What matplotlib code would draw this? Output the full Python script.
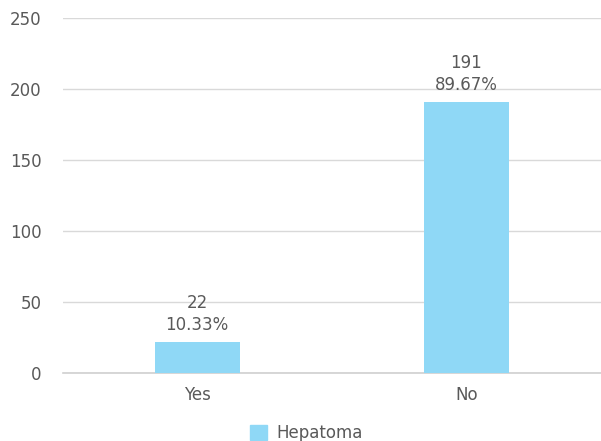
import matplotlib.pyplot as plt
from matplotlib.patches import Patch

# counts per answer
categories = ['Yes', 'No']
counts = [22, 191]
percents = ['10.33%', '89.67%']

plt.rcParams['font.family'] = ['DejaVu Sans']

fig = plt.figure(figsize=(6.01, 4.41), dpi=100)
ax = fig.add_axes([0.104, 0.154, 0.896, 0.805])

bar_color = '#8fd8f6'
text_color = '#595959'
fs = 12

x = range(len(categories))
ax.bar(x, counts, width=0.315, color=bar_color, zorder=3)

for xi, c, p in zip(x, counts, percents):
    ax.annotate('%d\n%s' % (c, p), xy=(xi, c), xytext=(0, 6), textcoords='offset points',
                ha='center', va='bottom', fontsize=fs, color=text_color, linespacing=1.25)

ax.set_xlim(-0.5, 1.5)
ax.set_ylim(0, 250)
ax.set_yticks(range(0, 251, 50))
ax.set_xticks(list(x))
ax.set_xticklabels(categories)
ax.tick_params(axis='both', length=0, labelsize=fs, colors=text_color)
ax.tick_params(axis='y', pad=15)
ax.tick_params(axis='x', pad=9)
ax.grid(axis='y', color='#d9d9d9', linewidth=1, zorder=0)

for s in ['top', 'right', 'left']:
    ax.spines[s].set_visible(False)
ax.spines['bottom'].set_color('#d0d0d0')
ax.spines['bottom'].set_linewidth(1.2)

fig.legend(handles=[Patch(color=bar_color, label='Hepatoma')], loc='lower center',
           bbox_to_anchor=(0.51, -0.037), frameon=False, fontsize=fs, labelcolor=text_color,
           handlelength=1.0, handleheight=1.0, handletextpad=0.6)

fig.savefig('out.png', dpi=100)
